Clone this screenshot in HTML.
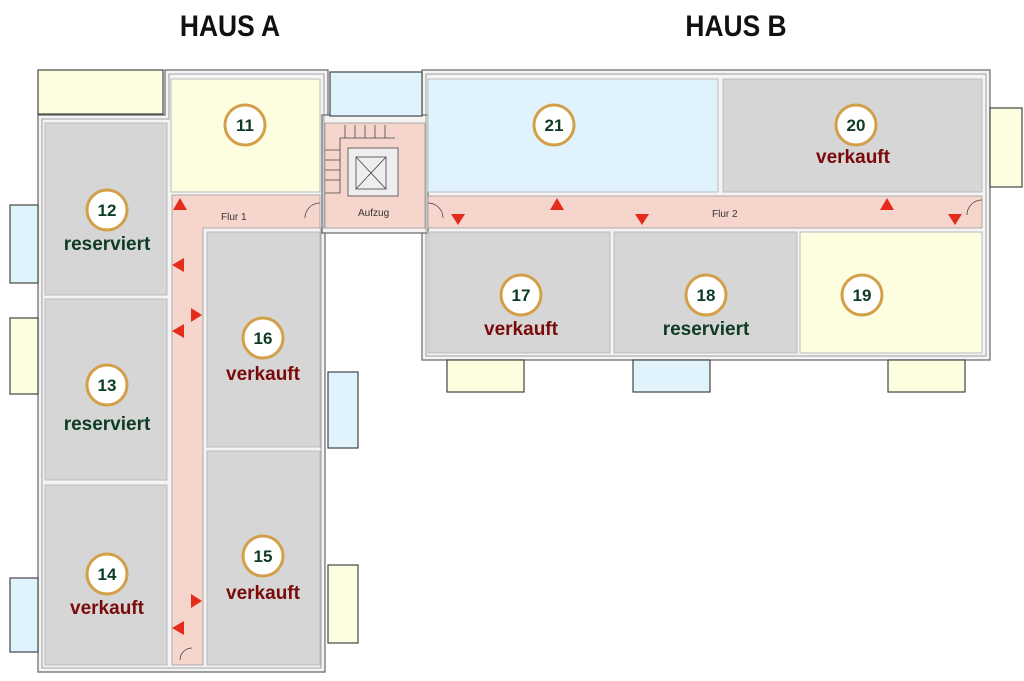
<!DOCTYPE html>
<html><head><meta charset="utf-8"><style>
html,body{margin:0;padding:0;background:#fff;}
svg{display:block}
.t{font-family:"Liberation Sans",sans-serif;font-weight:bold;}
</style></head><body>
<svg width="1024" height="681" viewBox="0 0 1024 681" xmlns="http://www.w3.org/2000/svg">
<rect width="1024" height="681" fill="#fff"/>
<g class="t" font-size="30" fill="#111" text-anchor="middle">
<text x="230" y="36" transform="translate(230 0) scale(0.88 1) translate(-230 0)">HAUS A</text>
<text x="736" y="36" transform="translate(736 0) scale(0.88 1) translate(-736 0)">HAUS B</text>
</g>
<!-- outer walls -->
<g fill="#f4f4f4" stroke="#666" stroke-width="1.2">
<path d="M38 115 H165 V70 H328 V232 H325 V672 H38 Z"/>
<rect x="422" y="70" width="568" height="290"/>
<rect x="322" y="115" width="106" height="118"/>
</g>
<g fill="none" stroke="#888" stroke-width="0.8">
<path d="M42 119 H169 V74 H324 V228 H321 V668 H42 Z"/>
<rect x="426" y="74" width="560" height="282"/>
</g>
<!-- balconies -->
<g stroke="#444" stroke-width="1.2">
<rect x="38" y="70" width="125" height="44" fill="#fdfde0"/>
<rect x="330" y="72" width="92" height="44" fill="#e0f3fc"/>
<rect x="10" y="205" width="28" height="78" fill="#e0f3fc"/>
<rect x="10" y="318" width="28" height="76" fill="#fdfde0"/>
<rect x="10" y="578" width="28" height="74" fill="#e0f3fc"/>
<rect x="328" y="372" width="30" height="76" fill="#e0f3fc"/>
<rect x="328" y="565" width="30" height="78" fill="#fdfde0"/>
<rect x="447" y="360" width="77" height="32" fill="#fdfde0"/>
<rect x="633" y="360" width="77" height="32" fill="#e0f3fc"/>
<rect x="888" y="360" width="77" height="32" fill="#fdfde0"/>
<rect x="990" y="108" width="32" height="79" fill="#fdfde0"/>
</g>
<!-- rooms -->
<g stroke="#bbb" stroke-width="1">
<rect x="171" y="79" width="149" height="113" fill="#fdfde0"/>
<rect x="45" y="123" width="122" height="172" fill="#d6d6d6"/>
<rect x="45" y="299" width="122" height="181" fill="#d6d6d6"/>
<rect x="45" y="485" width="122" height="180" fill="#d6d6d6"/>
<rect x="207" y="232" width="113" height="215" fill="#d6d6d6"/>
<rect x="207" y="451" width="113" height="214" fill="#d6d6d6"/>
<rect x="428" y="79" width="290" height="113" fill="#e0f3fc"/>
<rect x="723" y="79" width="259" height="113" fill="#d6d6d6"/>
<rect x="428" y="232" width="182" height="121" fill="#d6d6d6"/>
<rect x="614" y="232" width="183" height="121" fill="#d6d6d6"/>
<rect x="800" y="232" width="182" height="121" fill="#fdfde0"/>
</g>
<!-- corridors -->
<g fill="#f6d6cc" stroke="#999" stroke-width="0.8">
<path d="M172 195 H320 V228 H203 V665 H172 Z"/>
<rect x="325" y="123" width="100" height="105"/>
<rect x="428" y="196" width="554" height="32"/>
</g>
<!-- stairs/elevator -->
<g stroke="#444" stroke-width="0.8" fill="none">
<path d="M325 193 H340 V138 H395 M340 150 H325 M340 160 H325 M340 170 H325 M340 180 H325 M345 138 V125 M355 138 V125 M365 138 V125 M375 138 V125 M385 138 V125"/>
<rect x="348" y="148" width="50" height="48" fill="#eee"/>
<rect x="356" y="157" width="30" height="32"/>
<path d="M356 157 L386 189 M386 157 L356 189"/>
<path d="M320 203 a15 15 0 0 0 -15 15 M428 203 a15 15 0 0 1 15 15 M982 200 a15 15 0 0 0 -15 15 M192 648 a12 12 0 0 0 -12 12"/>
</g>
<g font-family="Liberation Sans,sans-serif" font-size="10" fill="#333">
<text x="221" y="220">Flur 1</text>
<text x="358" y="216">Aufzug</text>
<text x="712" y="217">Flur 2</text>
</g>
<!-- triangles -->
<g fill="#e52b1c">
<path d="M173 210 L187 210 L180 198 Z"/>
<path d="M550 210 L564 210 L557 198 Z"/>
<path d="M880 210 L894 210 L887 198 Z"/>
<path d="M451 214 L465 214 L458 225 Z"/>
<path d="M635 214 L649 214 L642 225 Z"/>
<path d="M948 214 L962 214 L955 225 Z"/>
<path d="M184 258 L184 272 L172 265 Z"/>
<path d="M184 324 L184 338 L172 331 Z"/>
<path d="M184 621 L184 635 L172 628 Z"/>
<path d="M191 308 L191 322 L202 315 Z"/>
<path d="M191 594 L191 608 L202 601 Z"/>
</g>
<!-- circles -->
<g fill="#fff" stroke="#d3a04a" stroke-width="3">
<circle cx="245" cy="125" r="20"/><circle cx="107" cy="210" r="20"/>
<circle cx="107" cy="385" r="20"/><circle cx="107" cy="574" r="20"/>
<circle cx="263" cy="338" r="20"/><circle cx="263" cy="556" r="20"/>
<circle cx="554" cy="125" r="20"/><circle cx="856" cy="125" r="20"/>
<circle cx="521" cy="295" r="20"/><circle cx="706" cy="295" r="20"/>
<circle cx="862" cy="295" r="20"/>
</g>
<g class="t" font-size="17" fill="#0d3b24" text-anchor="middle">
<text x="245" y="131">11</text><text x="107" y="216">12</text>
<text x="107" y="391">13</text><text x="107" y="580">14</text>
<text x="263" y="344">16</text><text x="263" y="562">15</text>
<text x="554" y="131">21</text><text x="856" y="131">20</text>
<text x="521" y="301">17</text><text x="706" y="301">18</text>
<text x="862" y="301">19</text>
</g>
<g class="t" font-size="19" text-anchor="middle">
<g fill="#0d3b24">
<text x="107" y="250">reserviert</text><text x="107" y="430">reserviert</text><text x="706" y="335">reserviert</text>
</g>
<g fill="#7a0a0a">
<text x="107" y="614">verkauft</text><text x="263" y="380">verkauft</text><text x="263" y="599">verkauft</text>
<text x="853" y="163">verkauft</text><text x="521" y="335">verkauft</text>
</g>
</g>
</svg>
</body></html>
